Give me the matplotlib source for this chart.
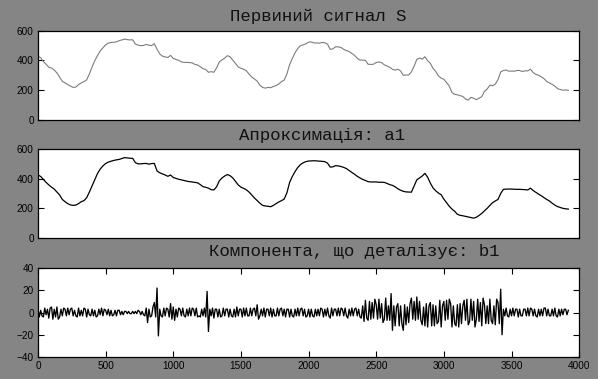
import matplotlib
matplotlib.use("Agg")
import matplotlib.pyplot as plt
import numpy as np

# крок відліків для a1 (значення через кожні 20 відліків, 0..3920)
step_a = 20
# крок відліків для b1
step_b = 10

a1 = [
    425, 415, 395, 375, 358, 343, 330, 310, 290, 260,
    245, 232, 223, 220, 222, 232, 245, 252, 272, 310,
    352, 395, 435, 465, 486, 502, 512, 518, 523, 527,
    530, 536, 542, 540, 538, 537, 508, 500, 500, 502,
    503, 498, 502, 503, 452, 440, 432, 425, 416, 425,
    408, 402, 396, 392, 388, 383, 380, 378, 375, 372,
    360, 346, 342, 336, 326, 324, 345, 385, 405, 418,
    428, 420, 405, 382, 358, 343, 335, 325, 310, 290,
    270, 252, 235, 220, 216, 214, 211, 220, 232, 243,
    252, 263, 305, 375, 415, 448, 475, 495, 507, 515,
    519, 520, 521, 520, 518, 517, 515, 505, 478, 480,
    488, 486, 482, 476, 468, 455, 442, 430, 416, 405,
    395, 388, 380, 378, 378, 378, 376, 376, 375, 368,
    360, 355, 345, 332, 322, 315, 311, 310, 309, 350,
    392, 405, 418, 436, 410, 370, 338, 318, 303, 292,
    262, 238, 214, 195, 180, 160, 153, 150, 146, 142,
    138, 134, 140, 152, 166, 183, 200, 220, 238, 250,
    260, 300, 328, 330, 330, 330, 329, 328, 328, 327,
    326, 324, 336, 320, 308, 296, 285, 272, 260, 250,
    235, 222, 212, 206, 200, 197, 195,
]

# деталізуюча компонента b1 (0..3920 через 10)
b1 = [
    3, -4, 2, -3, -4, 4, -2, 3, -5, 4, 5, -6, 3, -4, 5, -6, -4, 3, -3, 4,
    3, -3, 4, -2, 3, 4, -3, 2, -3, -4, 4, -3, 2, -3, 4, 3, -4, 3, -2, -3,
    3, -3, 2, -4, -3, 3, -2, 4, -3, 3, 2, -2, 3, -3, 2, -3, -2, 2, -3, 2,
    2, -2, 1, -2, 1, 1, -1, 1, -1, -1, 1, -1, 1, -1, 2, 1, -2, 1, -2, -3,
    4, -9, 3, -4, -3, 5, 9, -4, 22, -21, 3, -3, -4, 4, -3, 4, 3, -4, 8, -6,
    5, -7, 3, -4, 4, 3, -3, 4, -3, -4, 3, -3, 4, -3, 4, 3, -3, 4, -4, -3,
    -4, 3, -3, 4, -4, 19, -17, 3, -3, 4, -5, 3, 3, -4, 3, -4, -3, 4, -3, 3,
    3, -4, 3, -3, -4, 3, -4, 5, -3, 3, 3, -4, 4, -3, 4, -3, -3, 4, -3, 3,
    4, -3, 7, -6, -3, 3, -3, 4, -4, 3, 3, -3, 4, -4, 3, -3, -3, 4, -3, 3,
    4, -3, 3, -4, 3, 3, -4, 3, -3, -4, 3, -3, 4, -3, 3, 4, -3, 3, -4, -3,
    3, -4, 3, -3, -4, 3, -3, 3, -3, 4, 3, -4, 3, -3, 4, -3, -5, 4, -3, 3,
    3, -3, 4, -3, 4, 3, -3, 4, -3, -5, 3, -3, 4, -3, 3, 4, -3, 3, -4, -5,
    6, -8, 11, -5, -7, 10, -6, 9, -5, 12, 7, -6, 12, -5, 8, -9, -6, 13, -7, 6,
    -7, 17, -16, 6, -12, 5, 8, -12, 6, -10, -16, 7, -11, 5, -9, 8, 13, -6, 10, -7,
    14, -6, 10, -7, -11, 5, -12, 8, -13, 6, 9, -12, 7, -12, 6, -10, -8, 11, -13, 6,
    10, -7, 11, -6, 12, 8, -13, 6, -10, -12, 7, -13, 8, -10, 6, 11, -7, 12, -11, -8,
    12, -7, 10, -13, -6, 12, -8, 9, -12, 13, 7, -10, 6, -10, 12, -7, -10, 6, -11, 12,
    9, -10, 21, -20, 3, -3, 4, -3, -4, 3, -3, 4, -3, 3, 3, -4, 3, -3, -3, 3,
    3, -3, 4, -3, 4, 3, -3, 3, -3, -4, 3, -3, 3, -3, 4, 4, -3, 3, -3, -3,
    3, -3, 4, -3, -4, 3, -3, 3, -2, 3, 3, -2, 2,
]

titles = ["Первиний сигнал S", "Апроксимація: a1", "Компонента, що деталізує: b1"]
xticks = [0, 500, 1000, 1500, 2000, 2500, 3000, 3500, 4000]
yticks_top = [0, 200, 400, 600]
yticks_bot = [-40, -20, 0, 20, 40]

a1 = np.array(a1, dtype=float)
b1 = np.array(b1, dtype=float)
xa = np.arange(len(a1)) * step_a
xb = np.arange(len(b1)) * step_b
s = a1 + b1[::2]  # первинний сигнал = a1 + b1

fig = plt.figure(figsize=(5.98, 3.79), dpi=100, facecolor="#858585")

boxes = [
    [0.0635, 0.6845, 0.905, 0.2348],
    [0.0635, 0.3720, 0.905, 0.2348],
    [0.0635, 0.0580, 0.905, 0.2348],
]
series = [(xa, s, "#7c7c7c", 0.8), (xa, a1, "black", 0.9), (xb, b1, "black", 0.95)]
title_x = [0.518, 0.525, 0.584]
title_pad = [6.7, 6.5, 8.6]

for i, (box, (xv, yv, col, lw)) in enumerate(zip(boxes, series)):
    ax = fig.add_axes(box)
    ax.set_facecolor("white")
    ax.plot(xv, yv, color=col, lw=lw)
    ax.set_xlim(0, 4000)
    if i < 2:
        ax.set_ylim(0, 600)
        ax.set_yticks(yticks_top)
        ax.set_xticks([])
    else:
        ax.set_ylim(-40, 40)
        ax.set_yticks(yticks_bot)
        ax.set_xticks(xticks)
    ax.tick_params(direction="in", length=4.5, width=0.8, labelsize=7.2,
                   right=True, top=(i == 2), colors="black", pad=3)
    for lab in ax.get_xticklabels() + ax.get_yticklabels():
        lab.set_family("Liberation Sans")
    for sp in ax.spines.values():
        sp.set_linewidth(0.9)
    ax.set_title(titles[i], family="Liberation Mono", fontsize=12.5,
                 x=title_x[i], pad=title_pad[i], color="#111111")

fig.savefig("out.png", dpi=100, facecolor=fig.get_facecolor())
